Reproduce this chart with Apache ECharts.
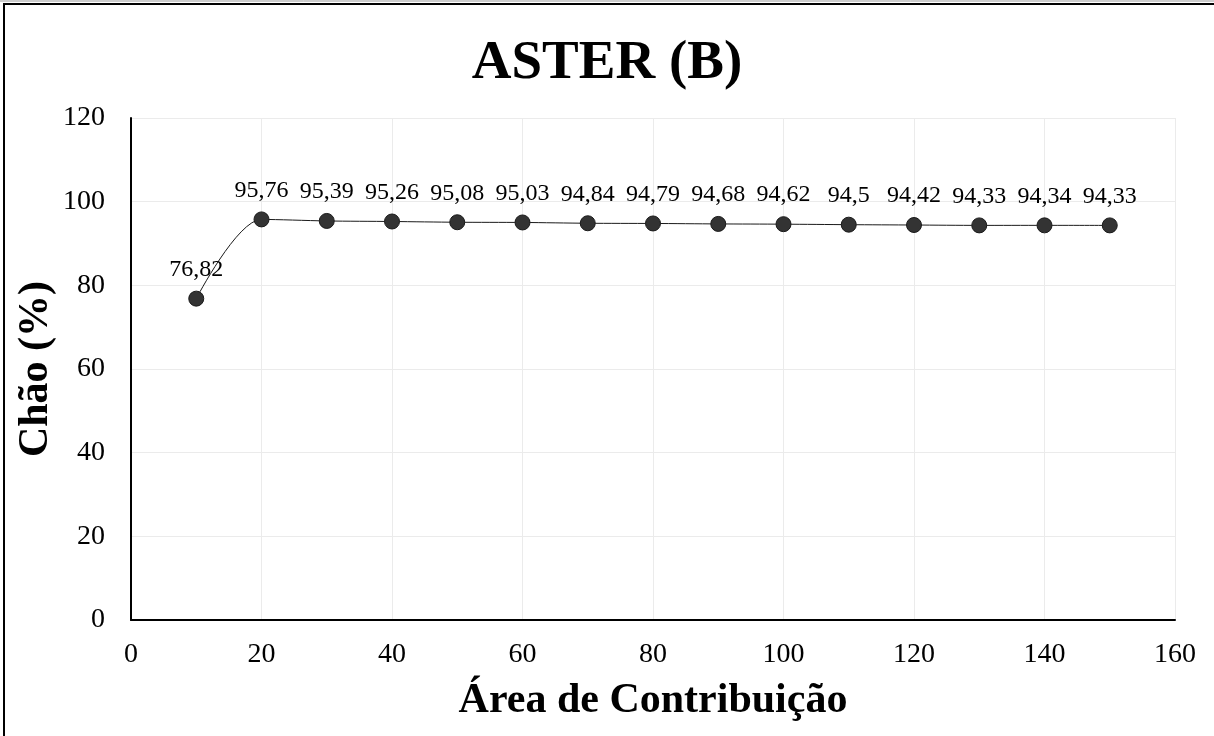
<!DOCTYPE html>
<html>
<head>
<meta charset="utf-8">
<script src="https://cdn.jsdelivr.net/npm/echarts@6/dist/echarts.min.js"></script>
<style>
html,body{margin:0;padding:0;background:#fff;}
#chart{width:1214px;height:736px;}
</style>
</head>
<body>
<div id="chart"></div>
<script>
const titleText = 'ASTER (B)';
const xAxisName = 'Área de Contribuição';
const yAxisName = 'Chão (%)';
const areas = [10, 20, 30, 40, 50, 60, 70, 80, 90, 100, 110, 120, 130, 140, 150];
const chao = [76.82, 95.76, 95.39, 95.26, 95.08, 95.03, 94.84, 94.79, 94.68, 94.62, 94.5, 94.42, 94.33, 94.34, 94.33];
const xMin = 0, xMax = 160, xStep = 20;
const yMin = 0, yMax = 120, yStep = 20;

const FONT = '"Liberation Serif", "Times New Roman", serif';
const chart = echarts.init(document.getElementById('chart'));
const points = areas.map((a, i) => [a, chao[i]]);

chart.setOption({
  backgroundColor: '#ffffff',
  animation: false,
  title: {
    text: titleText,
    left: 'center',
    top: 31,
    textStyle: { fontFamily: FONT, fontSize: 55, fontWeight: 'bold', color: '#000' }
  },
  grid: { left: 131, right: 39, top: 118, bottom: 116, containLabel: false, outerBoundsMode: 'none' },
  xAxis: {
    type: 'value',
    min: xMin, max: xMax, interval: xStep,
    name: xAxisName,
    nameLocation: 'middle',
    nameGap: 60,
    nameMoveOverlap: false,
    nameTextStyle: { fontFamily: FONT, fontSize: 42, fontWeight: 'bold', color: '#000', verticalAlign: 'top' },
    axisLine: { show: true, lineStyle: { color: '#000', width: 2 } },
    axisTick: { show: false },
    axisLabel: { fontFamily: FONT, fontSize: 28, color: '#000', margin: 21 },
    splitLine: { show: true, lineStyle: { color: '#ebebeb', width: 1 } }
  },
  yAxis: {
    type: 'value',
    min: yMin, max: yMax, interval: yStep,
    name: yAxisName,
    nameLocation: 'middle',
    nameGap: 95,
    nameMoveOverlap: false,
    nameRotate: 90,
    nameTextStyle: { fontFamily: FONT, fontSize: 42, fontWeight: 'bold', color: '#000', verticalAlign: 'middle' },
    axisLine: { show: true, lineStyle: { color: '#000', width: 2 } },
    axisTick: { show: false },
    axisLabel: { fontFamily: FONT, fontSize: 28, color: '#000', margin: 26 },
    splitLine: { show: true, lineStyle: { color: '#ebebeb', width: 1 } }
  },
  series: [{
    type: 'line',
    data: points,
    smooth: 0.3,
    symbol: 'circle',
    symbolSize: 15,
    lineStyle: { color: '#1a1a1a', width: 1 },
    itemStyle: { color: '#333333', borderColor: '#1a1a1a', borderWidth: 1 },
    label: {
      show: true,
      position: 'top',
      distance: 9,
      fontFamily: FONT,
      fontSize: 24,
      color: '#000',
      formatter: p => String(p.value[1]).replace('.', ',')
    }
  }],
  graphic: [
    { type: 'line', shape: { x1: 0, y1: 1, x2: 1214, y2: 1 }, style: { stroke: '#999', lineWidth: 1 } },
    { type: 'line', shape: { x1: 3, y1: 4, x2: 1214, y2: 4 }, style: { stroke: '#000', lineWidth: 2 } },
    { type: 'line', shape: { x1: 4, y1: 3, x2: 4, y2: 736 }, style: { stroke: '#000', lineWidth: 2 } }
  ]
});
</script>
</body>
</html>
